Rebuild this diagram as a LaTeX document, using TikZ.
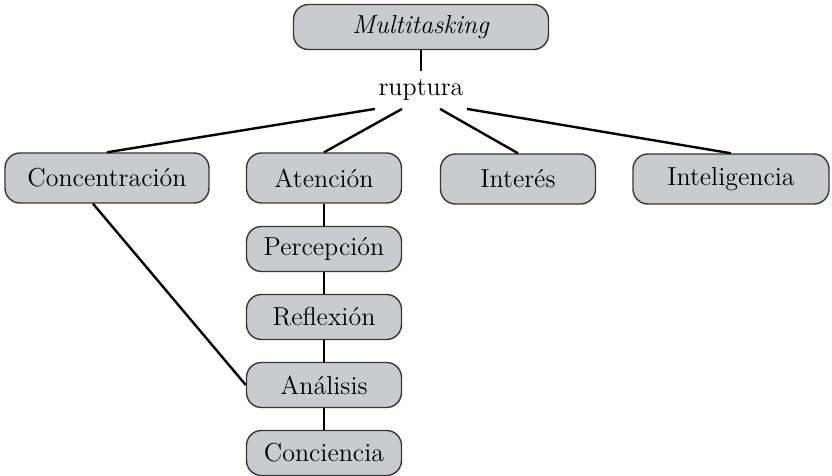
\documentclass[tikz,border=0pt]{standalone}
\usepackage{tikz}
\usetikzlibrary{calc}
\definecolor{boxGray}{RGB}{202,203,206}
\definecolor{boxLine}{RGB}{55,55,55}
\tikzset{
    concept/.style={rectangle, rounded corners=7.5pt, draw=boxLine, line width=0.7pt, fill=boxGray, minimum height=22.5pt, inner sep=2pt, font=\fontsize{13}{15}\selectfont},
    conceptRow/.style={concept, minimum height=25pt},
    linkWord/.style={inner xsep=1pt, inner ysep=4pt, font=\fontsize{13}{15}\selectfont},
    mapEdge/.style={line width=1.2pt},
}
\newcommand{\conecta}[2]{
    \draw[mapEdge] (#1) -- (#2);
}
\begin{document}
\begin{tikzpicture}[x=0.5pt, y=-0.5pt]

        \useasboundingbox (0,0) rectangle (832,476);

        \node[concept, minimum width=127.5pt] (multi) at (421,27) {\textit{Multitasking}};
        \node[linkWord] (rup) at (421,90) {ruptura};

        \node[conceptRow, minimum width=102pt] (concen) at (107,178) {Concentración};
        \node[conceptRow, minimum width=77.5pt] (aten) at (324,178) {Atención};
        \node[conceptRow, minimum width=77.5pt] (inter) at (518,179) {Interés};
        \node[conceptRow, minimum width=98pt] (intel) at (731,179) {Inteligencia};

        \node[concept, minimum width=77.5pt] (perc) at (324,249) {Percepción};
        \node[concept, minimum width=77.5pt] (refl) at (324,317) {Reflexión};
        \node[concept, minimum width=77.5pt] (anal) at (324,385) {Análisis};
        \node[concept, minimum width=77.5pt] (conci) at (324,453) {Conciencia};

        \conecta{multi}{rup}
        \conecta{[xshift=-23pt]rup.south}{concen.north}
        \conecta{[xshift=-9.5pt]rup.south}{aten.north}
        \conecta{[xshift=9.5pt]rup.south}{inter.north}
        \conecta{[xshift=23pt]rup.south}{intel.north}
        \conecta{aten}{perc}
        \conecta{perc}{refl}
        \conecta{refl}{anal}
        \conecta{anal}{conci}
        \conecta{[xshift=-7pt]concen.south}{anal.west}

    \end{tikzpicture}
\end{document}
